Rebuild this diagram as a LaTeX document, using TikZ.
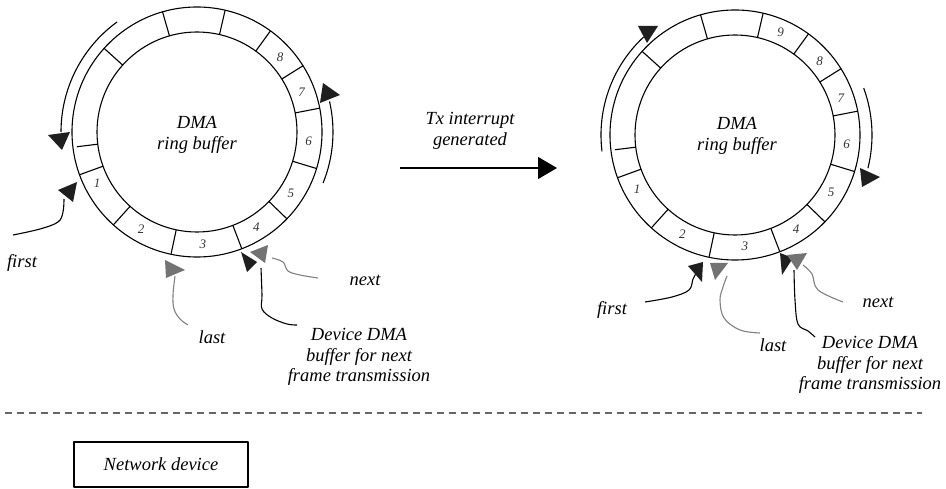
\documentclass[tikz,border=0pt]{standalone}
\usepackage{fontspec}
\setmainfont{Liberation Serif}
\usetikzlibrary{calc,arrows.meta}
\newcommand{\myring}[1]{%
  \draw[ringline] (#1) circle[radius=125];
  \draw[ringline] (#1) circle[radius=100];
  \foreach \a in {-106,-77,-54,-32,-11,17,44,69,102,132,160,-138}
    \draw[ringline] ($(#1)+(\a:100)$) -- ($(#1)+(\a:125)$);
  \draw[ringline] ($(#1)+(173:100)$) -- ($(#1)+(173:121)$);
}
\begin{document}
\begin{tikzpicture}[x=1pt,y=-1pt,line join=round,
  ringline/.style={line width=1.1pt,black},
  lbl/.style={font=\fontsize{18.5}{20.5}\selectfont\itshape,inner sep=0pt,align=center},
  num/.style={font=\fontsize{13}{13}\selectfont\itshape,text=black!80,inner sep=0pt},
  blackhead/.style={fill=black!88,draw=none},
  grayhead/.style={fill=black!55,draw=none},
  blackline/.style={line width=1.1pt,black},
  grayline/.style={line width=1.1pt,black!50},
  turnarc/.style={line width=1.1pt,black}]
\useasboundingbox (0,0) rectangle (946,489);

% ---------------- left ring ----------------
\coordinate (L) at (197,132);
\myring{L}
\foreach \n/\a in {1/153,2/120,3/87,4/58,5/33,6/5,7/-21,8/-42}
  \node[num] (Ln\n) at ($(L)+(\a:112)$) {\n};
\node[lbl] (Ltitle) at (197,135) {DMA\\ring buffer};

% rotation arcs (left ring)
\draw[turnarc] ($(L)+(-126:136)$) arc[start angle=-126,end angle=-180,radius=136];
\fill[blackhead] (48,135) -- (70,132) -- (62,150) -- cycle;
\draw[turnarc] ($(L)+(22:136)$) arc[start angle=22,end angle=-13,radius=136];
\fill[blackhead] (320,103) -- (323,83) -- (340,95) -- cycle;

% pointers (left ring)
\node[lbl] (Lfirst) at (22,263) {first};
\node[lbl] (Llast) at (212,337) {last};
\node[lbl] (Lnext) at (365,280) {next};
\node[lbl] (Ldev) at (359,357) {Device DMA\\buffer for next\\frame transmission};
\coordinate (Lfs) at (13,235);
\coordinate (Lls) at (188,325);
\coordinate (Lds) at (297,325);
\coordinate (Lns) at (318,278);
\draw[blackline] plot[smooth,tension=0.6] coordinates {(Lfs) (40,229) (58,222) (63,212) (64,199)};
\fill[blackhead] (58,190) -- (77,182) -- (73,202) -- cycle;
\draw[grayline] plot[smooth,tension=0.6] coordinates {(Lls) (180,319) (174,309) (173,295) (175,276)};
\fill[grayhead] (165,260) -- (166,278) -- (185,270) -- cycle;
\draw[blackline] plot[smooth,tension=0.6] coordinates {(Lds) (287,324) (272,318) (262,309) (262,295) (261,268)};
\fill[blackhead] (241,252) -- (247,272) -- (257,262) -- cycle;
\draw[grayline] plot[smooth,tension=0.6] coordinates {(Lns) (300,275) (288,271) (283,262) (272,258)};
\fill[grayhead] (250,252) -- (268,245) -- (265,263) -- cycle;

% ---------------- middle arrow ----------------
\coordinate (ms) at (400,168);
\coordinate (me) at (557,168);
\draw[line width=1.1pt,-{Triangle[length=19pt,width=22pt]}] (ms) -- (me);
\node[lbl] (tx) at (470,131) {Tx interrupt\\generated};

% ---------------- right ring ----------------
\coordinate (R) at (735,135);
\myring{R}
\foreach \n/\a in {1/151,2/118,3/85,4/57,5/31,6/5,7/-19,8/-41,9/-66}
  \node[num] (Rn\n) at ($(R)+(\a:112)$) {\n};
\node[lbl] (Rtitle) at (737,136) {DMA\\ring buffer};

% rotation arcs (right ring)
\draw[turnarc] ($(R)+(-187:134)$) arc[start angle=-187,end angle=-133,radius=134];
\fill[blackhead] (638,26) -- (658,26) -- (647,43) -- cycle;
\draw[turnarc] ($(R)+(-20:137)$) arc[start angle=-20,end angle=14,radius=137];
\fill[blackhead] (860,168) -- (862,187) -- (880,177) -- cycle;

% pointers (right ring)
\node[lbl] (Rfirst) at (612,310) {first};
\node[lbl] (Rlast) at (773,345) {last};
\node[lbl] (Rnext) at (878,302) {next};
\node[lbl] (Rdev) at (870,365) {Device DMA\\buffer for next\\frame transmission};
\coordinate (Rfs) at (645,302);
\coordinate (Rls) at (760,333);
\coordinate (Rds) at (815,337);
\coordinate (Rns) at (843,302);
\draw[blackline] plot[smooth,tension=0.6] coordinates {(Rfs) (672,297) (689,290) (693,279) (697,272)};
\fill[blackhead] (688,266) -- (703,262) -- (702,282) -- cycle;
\draw[grayline] plot[smooth,tension=0.6] coordinates {(Rls) (740,330) (724,318) (720,300) (723,287) (727,276)};
\fill[grayhead] (710,263) -- (728,263) -- (715,280) -- cycle;
\draw[blackline] plot[smooth,tension=0.6] coordinates {(Rds) (808,331) (798,324) (795,300) (794,270)};
\fill[blackhead] (780,253) -- (793,258) -- (782,275) -- cycle;
\draw[grayline] plot[smooth,tension=0.6] coordinates {(Rns) (818,290) (812,274) (803,265)};
\fill[grayhead] (787,255) -- (807,253) -- (797,270) -- cycle;

% ---------------- separator and device ----------------
\coordinate (dl) at (5,413);
\coordinate (dr) at (922,413);
\draw[black!60,line width=1.4pt,dash pattern=on 7pt off 5pt] (dl) -- (dr);
\node[draw,line width=1.1pt,minimum width=174pt,minimum height=45pt,inner sep=0pt,
      font=\fontsize{18.5}{20.5}\selectfont\itshape] (dev) at (161,464.5) {Network device};
\end{tikzpicture}
\end{document}
